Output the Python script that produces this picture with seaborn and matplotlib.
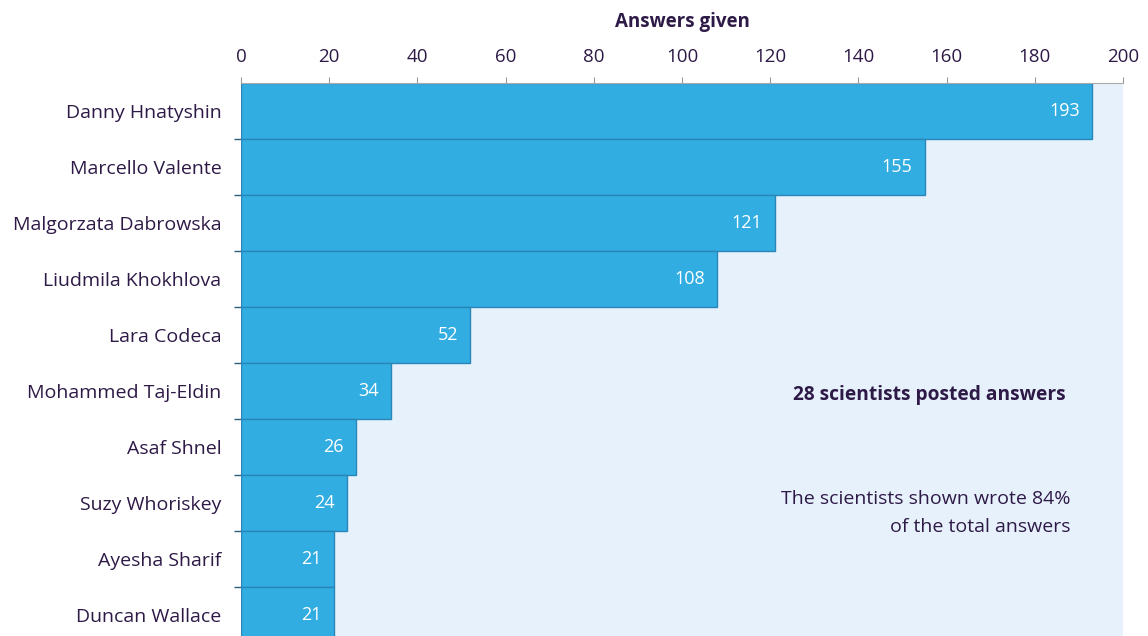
import matplotlib
matplotlib.use("Agg")
import matplotlib.pyplot as plt
import seaborn as sns
import pandas as pd
import numpy as np
from matplotlib.ticker import FixedLocator

names = ["Danny Hnatyshin", "Marcello Valente", "Malgorzata Dabrowska", "Liudmila Khokhlova",
         "Lara Codeca", "Mohammed Taj-Eldin", "Asaf Shnel", "Suzy Whoriskey",
         "Ayesha Sharif", "Duncan Wallace"]
answers = [193, 155, 121, 108, 52, 34, 26, 24, 21, 21]
xticks = [0, 20, 40, 60, 80, 100, 120, 140, 160, 180, 200]

df = pd.DataFrame({"name": names, "answers": answers})

sns.set_theme(style="white")
plt.rcParams['font.family'] = ['Open Sans', 'DejaVu Sans']

purple = "#2e1a47"
bar_color = "#32ade1"
bg = "#e7f1fb"

fig = plt.figure(figsize=(11.48, 6.36), dpi=100)
W, H = 1148, 636
top_px, bot_px = 83, 643
left_px, right_px = 241, 1123
ax = fig.add_axes([left_px / W, 1 - bot_px / H, (right_px - left_px) / W, (bot_px - top_px) / H])
ax.set_facecolor(bg)

sns.barplot(data=df, y="name", x="answers", orient="h", ax=ax, color=bar_color,
            width=1.0, edgecolor="#2a86b8", linewidth=1.0, saturation=1)

ax.set_xlim(0, 200)
ax.set_ylim(len(names) - 0.5, -0.5)
ax.xaxis.tick_top()
ax.xaxis.set_label_position("top")
ax.set_xticks(xticks)
ax.set_xticklabels([str(t) for t in xticks], fontsize=13.5, color=purple)
ax.set_xlabel("Answers given", fontsize=13.5, fontweight="bold", color=purple, labelpad=15)
ax.set_ylabel("")
ax.tick_params(axis="x", which="major", top=True, length=4, width=0.8, color="#999999", pad=8)
ax.tick_params(axis="y", which="major", length=0, pad=14, labelsize=14, labelcolor=purple)
ax.yaxis.set_minor_locator(FixedLocator(np.arange(0.5, len(names) - 0.5, 1.0)))
ax.tick_params(axis="y", which="minor", left=True, length=5, width=1.0, color="#2a5d80")

for s in ["right", "bottom", "left"]:
    ax.spines[s].set_visible(False)
ax.spines["top"].set_color("#aaaaaa")
ax.spines["top"].set_linewidth(0.8)

for i, v in enumerate(answers):
    ax.text(v - 2.8, i, str(v), ha="right", va="center", color="white", fontsize=13)

ax.text(0.935, 0.443, "28 scientists posted answers", transform=ax.transAxes,
        ha="right", va="center", fontsize=13.8, fontweight="bold", color=purple)
ax.text(0.94, 0.232, "The scientists shown wrote 84%\nof the total answers", transform=ax.transAxes,
        ha="right", va="center", fontsize=14, color=purple, linespacing=1.75)

fig.savefig("out.png", dpi=100)
